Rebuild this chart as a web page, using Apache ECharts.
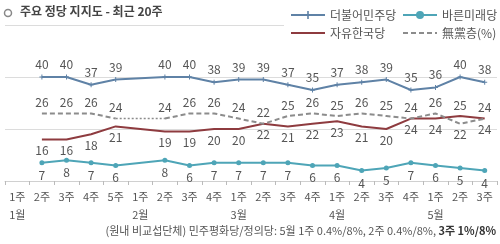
<!DOCTYPE html>
<html><head><meta charset="utf-8">
<script src="https://cdn.jsdelivr.net/npm/echarts@6/dist/echarts.min.js"></script>
<style>html,body{margin:0;padding:0;background:#fff}#c{width:500px;height:244px}</style>
</head><body><div id="c"></div>
<script>
const weeks = ['1주','2주','3주','4주','5주','1주','2주','3주','4주','1주','2주','3주','4주','1주','2주','3주','4주','1주','2주','3주'];
const months = ['1월','','','','','2월','','','','3월','','','','4월','','','','5월','',''];
const minjoo = [null,40,40,37,39,null,40,40,38,39,39,37,35,37,38,39,35,36,40,38];
const bareun = [null,7,8,7,6,null,8,6,7,7,7,7,6,6,4,5,7,6,5,4];
const hankook = [null,16,16,18,21,null,19,19,20,20,22,21,22,23,21,20,24,24,25,24];
const nonparty = [null,26,26,26,24,null,24,26,26,24,22,25,26,25,26,25,24,26,22,24];
const names = ['더불어민주당','바른미래당','자유한국당','無黨층(%)'];

const FONT = '"Noto Sans CJK KR", "Noto Sans", sans-serif';
const chart = echarts.init(document.getElementById('c'), null, {renderer: 'canvas'});

function withPos(arr, fn) {
  return arr.map((v, i) => v == null ? null : {value: v, label: {show: true, position: fn(v, i)}});
}
// bridge over the missing week: keep only the points either side of a gap
const gapIdx = nonparty.map((v, i) => v == null && i > 0 ? i : -1).filter(i => i > 0);
const nonpartyGap = nonparty.map((v, i) => gapIdx.some(g => i === g - 1 || i === g + 1) ? v : null);

const lbl = {show: true, fontSize: 12, color: '#555', fontFamily: FONT, distance: 4};
const plus = 'path://M4,0h2v4h4v2h-4v4h-2v-4h-4v-2h4z';
const CLEAR = 'rgba(0,0,0,0)';

function leg(name, left, top, hideSym) {
  const o = {data: [name], left: left, top: top, itemWidth: 34, itemHeight: 10, padding: 0,
    textStyle: {fontSize: 12, color: '#555', fontFamily: FONT}, z: 120, selectedMode: false};
  if (hideSym) o.itemStyle = {opacity: 0};
  return o;
}

chart.setOption({
  animation: false,
  textStyle: {fontFamily: FONT},
  grid: {left: 5, right: 3, top: 25, bottom: 63},
  legend: [leg(names[0], 290, 9), leg(names[1], 402, 9), leg(names[2], 290, 27, true), leg(names[3], 402, 27, true)],
  graphic: [
    {type: 'rect', shape: {x: 284, y: 4, width: 216, height: 40}, style: {fill: '#fff'}, z: 100},
    {type: 'circle', shape: {cx: 8, cy: 13, r: 3.5}, style: {fill: '#fff', stroke: '#888', lineWidth: 1.5}, z: 100},
    {type: 'text', left: 20, top: 5, z: 100, style: {text: '주요 정당 지지도 - 최근 20주', fontSize: 12, fontWeight: 'bold', fill: '#444', fontFamily: FONT}},
    {type: 'text', right: 4, top: 225, z: 100, style: {
      text: '{n|(원내 비교섭단체) 민주평화당/정의당: 5월 1주 0.4%/8%, 2주 0.4%/8%, }{b|3주 1%/8%}',
      fontFamily: FONT,
      rich: {n: {fontSize: 11, fill: '#555', fontFamily: FONT}, b: {fontSize: 11, fill: '#333', fontWeight: 'bold', fontFamily: FONT}}
    }}
  ],
  xAxis: {
    type: 'category', data: weeks, boundaryGap: true,
    axisLine: {show: true, lineStyle: {color: '#d0d0d0'}},
    axisTick: {show: true, length: 4, lineStyle: {color: '#bbb'}},
    axisLabel: {
      margin: 7, color: '#555', fontSize: 11, fontFamily: FONT, lineHeight: 18, interval: 0,
      formatter: (v, i) => months[i] ? v + '\n' + months[i] : v
    }
  },
  yAxis: {
    type: 'value', min: 0, max: 60, interval: 20,
    axisLabel: {show: false}, axisLine: {show: false}, axisTick: {show: false},
    splitLine: {lineStyle: {color: '#dcdcdc'}}
  },
  series: [
    {name: names[0], type: 'line', data: minjoo, connectNulls: true,
      symbol: plus, symbolSize: 5, showSymbol: true,
      lineStyle: {color: '#5f82a6', width: 2}, itemStyle: {color: '#5f82a6'},
      label: Object.assign({}, lbl, {position: 'top'})},
    {name: names[1], type: 'line', data: bareun, connectNulls: true,
      symbol: 'circle', symbolSize: 5,
      lineStyle: {color: '#4ea5b7', width: 2}, itemStyle: {color: '#4ea5b7'},
      label: Object.assign({}, lbl, {position: 'bottom'})},
    {name: names[2], type: 'line', data: withPos(hankook, (v, i) => v > nonparty[i] ? 'top' : 'bottom'), connectNulls: true,
      symbol: 'circle', symbolSize: 2, showSymbol: true,
      lineStyle: {color: '#8e3b3f', width: 2}, itemStyle: {color: CLEAR},
      label: Object.assign({}, lbl, {position: 'bottom'})},
    {name: names[3], type: 'line', data: withPos(nonparty, (v, i) => v < hankook[i] ? 'bottom' : 'top'), connectNulls: false,
      symbol: 'circle', symbolSize: 2, showSymbol: true,
      lineStyle: {color: '#8c8c8c', width: 2, type: [5, 3]}, itemStyle: {color: CLEAR},
      label: Object.assign({}, lbl, {position: 'top'})},
    {name: 'gap', type: 'line', data: nonpartyGap, connectNulls: true,
      symbol: 'none', silent: true,
      lineStyle: {color: '#8c8c8c', width: 1.5, type: [2, 2]}, itemStyle: {color: '#8c8c8c'},
      label: {show: false}}
  ]
});
</script></body></html>
